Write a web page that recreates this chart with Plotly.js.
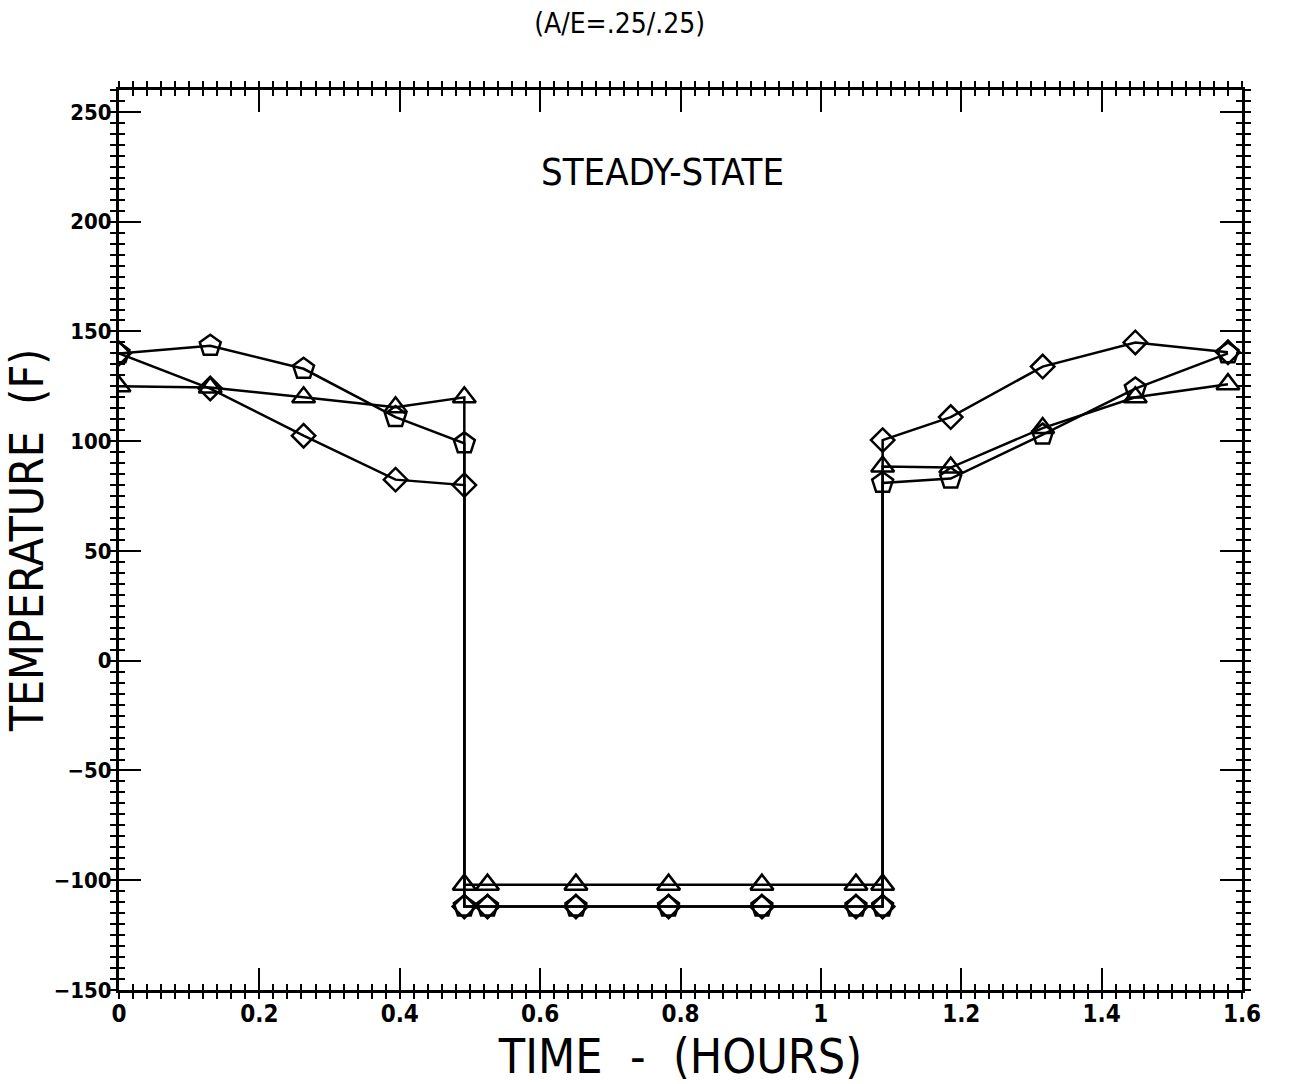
<!DOCTYPE html>
<html>
<head>
<meta charset="utf-8">
<script src="https://cdn.plot.ly/plotly-3.0.1.min.js"></script>
<style>html,body{margin:0;padding:0;background:#fff;}#chart{width:1299px;height:1084px;}</style>
</head>
<body>
<div id="chart"></div>
<script>
// Time (hours)
const timeHours = [0, 0.13, 0.263, 0.394, 0.492, 0.492, 0.525, 0.651, 0.783, 0.916, 1.05, 1.088, 1.088, 1.185, 1.316, 1.448, 1.58];
// Temperature (F) per curve
const tempPentagon = [140, 143.5, 133, 111, 99, -112, -112, -112, -112, -112, -112, -112, 81, 83, 103, 124, 140];
const tempTriangle = [125, 124.5, 120, 115.5, 120, -102, -102, -102, -102, -102, -102, -102, 88.5, 88, 106, 120, 126];
const tempDiamond = [140, 124, 102.5, 82.5, 80, -112, -112, -112, -112, -112, -112, -112, 100.5, 111, 134, 145, 140.5];

const titleText = "(A/E=.25/.25)";
const noteText = "STEADY-STATE";
const xTitle = "TIME  -  (HOURS)";
const yTitle = "\u00a0\u00a0\u00a0\u00a0TEMPERATURE  (F)";

const FONT = "DejaVu Sans Condensed, DejaVu Sans, sans-serif";
const LW = 2.5;

function series(y, sym, size) {
  return {
    x: timeHours, y: y, type: 'scatter', mode: 'lines+markers',
    line: {color: '#000', width: LW},
    marker: {symbol: sym, size: size, color: '#000', line: {color: '#000', width: 2.5}},
    showlegend: false, hoverinfo: 'x+y'
  };
}

const traces = [
  series(tempPentagon, 'pentagon-open', 22),
  series(tempTriangle, 'triangle-up-open', 20),
  series(tempDiamond, 'diamond-open', 18),
  {x: [null], y: [null], xaxis: 'x2', yaxis: 'y2', type: 'scatter', mode: 'markers', showlegend: false, hoverinfo: 'skip'}
];

const axBase = {
  showgrid: false, zeroline: false, showline: true, linecolor: '#000', linewidth: 3,
  mirror: 'allticks', tickcolor: '#000'
};

const layout = {
  width: 1299, height: 1084,
  margin: {l: 119, r: 57, t: 90, b: 94},
  paper_bgcolor: '#fff', plot_bgcolor: '#fff',
  font: {family: FONT, color: '#000'},
  title: {text: titleText, font: {size: 28, family: FONT, color: '#000'}, x: 0.477, xanchor: 'center', xref: 'container', y: 0.979, yanchor: 'middle', yref: 'container'},
  xaxis: Object.assign({}, axBase, {
    range: [0, 1.6], tick0: 0, dtick: 0.2, ticks: 'inside', ticklen: 22, tickwidth: 2,
    minor: {tick0: 0, dtick: 0.02, ticks: 'inside', ticklen: 6, tickwidth: 2, tickcolor: '#000'},
    tickfont: {size: 24, family: FONT, color: '#000', weight: 'bold'},
    title: {text: xTitle, font: {size: 48, family: FONT, color: '#000'}, standoff: 12}
  }),
  yaxis: Object.assign({}, axBase, {
    range: [-150, 260], tick0: 0, dtick: 50, ticks: 'inside', ticklen: 22, tickwidth: 2,
    minor: {tick0: 0, dtick: 5, ticks: 'inside', ticklen: 6, tickwidth: 2, tickcolor: '#000'},
    tickfont: {size: 22, family: FONT, color: '#000', weight: 'bold'},
    title: {text: yTitle, font: {size: 46, family: FONT, color: '#000'}, standoff: 14}
  }),
  xaxis2: Object.assign({}, axBase, {
    overlaying: 'x', side: 'bottom', range: [0, 1.6], tick0: 0, dtick: 0.02,
    ticks: 'outside', ticklen: 6, tickwidth: 2, showticklabels: false
  }),
  yaxis2: Object.assign({}, axBase, {
    overlaying: 'y', side: 'left', range: [-150, 260], tick0: 0, dtick: 5,
    ticks: 'outside', ticklen: 6, tickwidth: 2, showticklabels: false
  }),
  annotations: [{
    text: noteText, xref: 'paper', yref: 'paper', x: 0.484, y: 0.909,
    xanchor: 'center', yanchor: 'middle', showarrow: false,
    font: {size: 38, family: FONT, color: '#000'}
  }]
};

Plotly.newPlot('chart', traces, layout, {displayModeBar: false, staticPlot: true});
</script>
</body>
</html>
